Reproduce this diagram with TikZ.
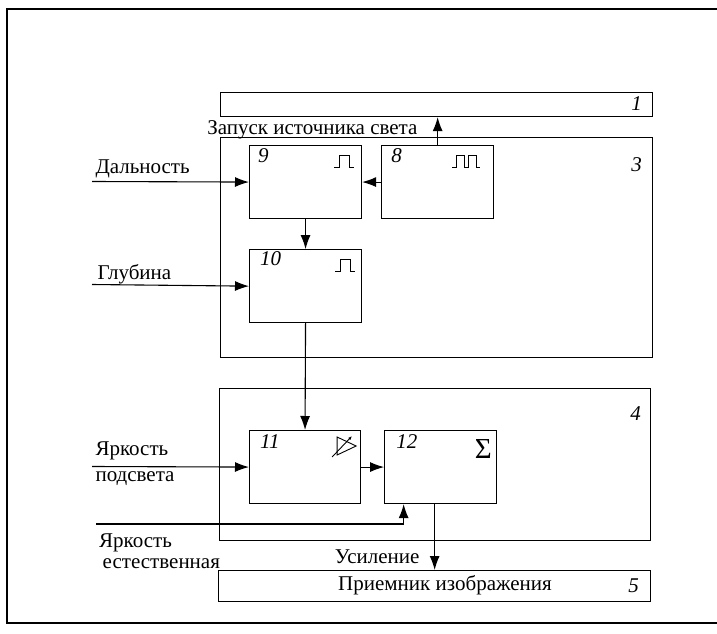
\documentclass[tikz,border=0pt]{standalone}
\usepackage{fontspec}
\setmainfont{Liberation Serif}
\usetikzlibrary{positioning,arrows.meta,calc}

\begin{document}
\begin{tikzpicture}[x=1pt, y=-1pt, font=\fontsize{21}{23}\selectfont,
  every node/.style={align=center},
  blk/.style={draw, line width=1.1pt, minimum width=112pt, minimum height=73pt, inner sep=0pt},
  unit/.style={draw, line width=1.1pt, anchor=north west, inner sep=0pt},
  num/.style={font=\fontsize{21}{23}\selectfont\itshape, inner sep=0pt},
  sym/.style={line width=0.9pt},
  arr/.style={-{Latex[length=14pt,width=10pt]}, line width=1.1pt}]
\useasboundingbox (0,0) rectangle (717,634);
\draw[line width=1.8pt] (717,9) -- (7,9) -- (7,623) -- (717,623);
% light source, control unit, gain unit, receiver
\node[unit, minimum width=432pt, minimum height=24pt] (src) at (220,92) {};
\node[num, anchor=north east] (n1) at ([xshift=-11pt,yshift=-4pt]src.north east) {1};
\node[unit, minimum width=432pt, minimum height=220pt] (ctl) at (220,137) {};
\node[num, anchor=north east] (n3) at ([xshift=-11pt,yshift=-20pt]ctl.north east) {3};
\node[unit, minimum width=431pt, minimum height=152pt] (amp) at (219,388) {};
\node[num, anchor=north east] (n4) at ([xshift=-10pt,yshift=-18pt]amp.north east) {4};
\node[unit, minimum width=432pt, minimum height=31pt] (rcv) at (218,570) {};
\node (trcv) at (445,585) {Приемник изображения};
\node[num, anchor=east] (n5) at ([xshift=-12pt]rcv.east) {5};
% blocks
\node[blk, anchor=north west] (b9) at (249,145) {};
\node[blk, right=19pt of b9] (b8) {};
\node[blk, below=30pt of b9] (b10) {};
\node[blk, minimum width=111pt, anchor=north west] (b11) at (249,430) {};
\node[blk, right=23pt of b11] (b12) {};
\node[num, anchor=north west] (n9) at ([xshift=9pt,yshift=-3pt]b9.north west) {9};
\node[num, anchor=north west] (n8) at ([xshift=10pt,yshift=-3pt]b8.north west) {8};
\node[num, anchor=north west] (n10) at ([xshift=11pt,yshift=-2pt]b10.north west) {10};
\node[num, anchor=north west] (n11) at ([xshift=11pt,yshift=-4pt]b11.north west) {11};
\node[num, anchor=north west] (n12) at ([xshift=12pt,yshift=-4pt]b12.north west) {12};
% symbols
\draw[sym] ([xshift=-28pt,yshift=-22pt]b9.north east) -- ++(5,0) -- ++(0,-12) -- ++(10,0) -- ++(0,12) -- ++(5,0);
\draw[sym] ([xshift=-27pt,yshift=-22pt]b10.north east) -- ++(5,0) -- ++(0,-12) -- ++(10,0) -- ++(0,12) -- ++(5,0);
\draw[sym] ([xshift=-42pt,yshift=-22pt]b8.north east) -- ++(4,0) -- ++(0,-12) -- ++(8,0) -- ++(0,12)
  -- ++(4,0) -- ++(0,-12) -- ++(8,0) -- ++(0,12) -- ++(4,0);
\draw[sym] ([xshift=-24pt,yshift=-7pt]b11.north east) -- ++(0,18) -- ++(19,-9) -- cycle;
\draw[sym, -{Latex[length=4pt,width=3pt]}] ([xshift=-29pt,yshift=-27pt]b11.north east) -- ++(20,-21);
\node (s12) at ([xshift=-14pt,yshift=-19pt]b12.north east) {\fontsize{29}{29}\selectfont Σ};
% texts
\node[anchor=base east] (lstart) at (421,134) {Запуск источника света};
\node[anchor=base west] (lD) at (92,173) {Дальность};
\node[anchor=base west] (lG) at (94,279) {Глубина};
\node[anchor=west, align=left, font=\fontsize{21}{26}\selectfont] (lP) at (92,464) {Яркость\\подсвета};
\node[anchor=west, align=left, inner sep=0pt, font=\fontsize{21}{21}\selectfont] (lE) at (99,551) {Яркость\\\,естественная};
\node[anchor=base east] (lU) at (423,563) {Усиление};
% connectors
\coordinate (inD) at (92,181.5);
\coordinate (inG) at (92,284.5);
\coordinate (inP) at (92,466.5);
\coordinate (inE) at (96,524);
\coordinate (o12) at ([xshift=-6pt]b12.south);
\draw[arr] (b8.north) -- (b8.north |- src.south);
\draw[arr] (b8.west) -- (b9.east);
\draw[arr] (inD) -- (b9.west);
\draw[arr] (b9.south) -- (b10.north);
\draw[arr] (inG) -- (b10.west);
\draw[arr] (b10.south) -- (b11.north);
\draw[arr] (inP) -- (b11.west);
\draw[arr] (b11.east) -- (b12.west);
\draw[arr] (inE) -| ([xshift=-37pt]b12.south);
\draw[arr] (o12) -- (o12 |- rcv.north);
\end{tikzpicture}
\end{document}
